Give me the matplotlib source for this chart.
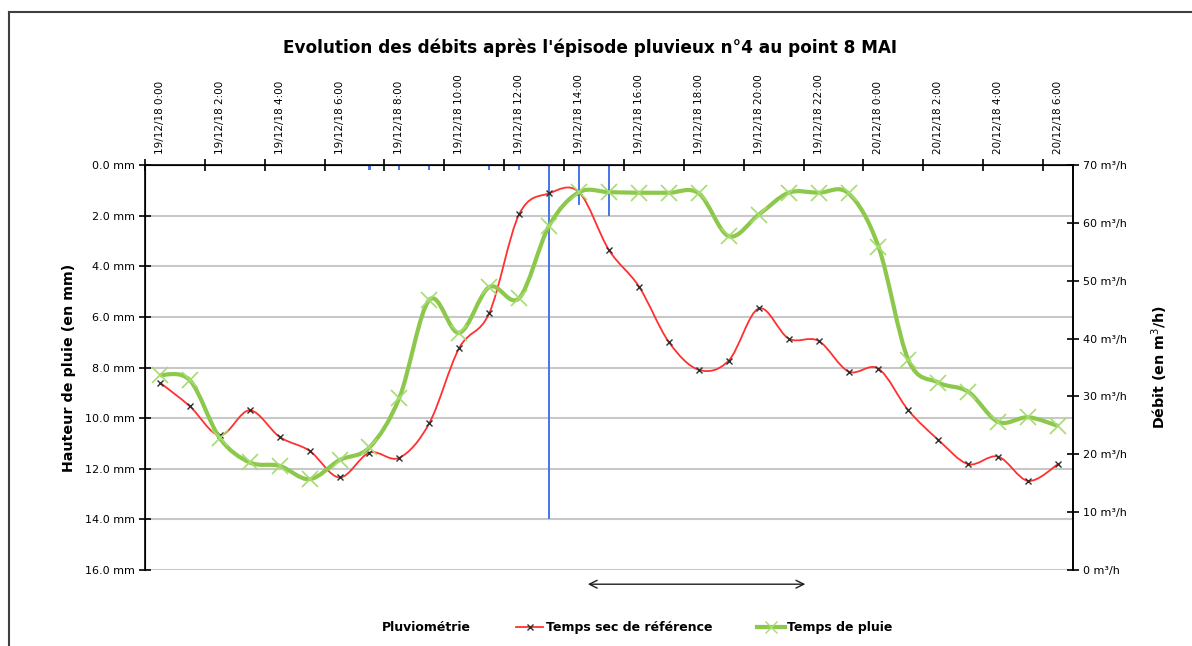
import matplotlib.pyplot as plt
import numpy as np
from matplotlib.lines import Line2D
from matplotlib.patches import Patch, PathPatch
from matplotlib.path import Path

plt.rcParams['font.family'] = ['DejaVu Sans']

# heures du 19/12/18 0:00 au 20/12/18 6:00 (pas horaire)
heures = [f"19/12/18 {h}:00" for h in range(24)] + [f"20/12/18 {h}:00" for h in range(7)]

# pluviométrie (mm) par heure
pluie = [0, 0, 0, 0, 0, 0, 0, 0.2, 0.2, 0.2, 0, 0.2, 0.2, 14.0, 1.6, 2.0,
         0, 0, 0, 0, 0, 0, 0, 0, 0, 0, 0, 0, 0, 0, 0]

# débits (m3/h)
temps_sec = [32.4, 28.3, 23.3, 27.6, 23.0, 20.6, 16.0, 20.3, 19.4, 25.4, 38.4,
             44.4, 61.5, 65.1, 65.3, 55.3, 49.0, 39.4, 34.6, 36.2, 45.2, 40.0,
             39.6, 34.3, 34.8, 27.6, 22.5, 18.3, 19.6, 15.4, 18.3]
temps_pluie = [33.7, 32.8, 22.8, 18.6, 18.0, 15.7, 19.0, 21.2, 29.8, 46.7, 41.0,
               48.9, 47.0, 59.5, 65.3, 65.3, 65.2, 65.2, 65.1, 57.7, 61.4, 65.2,
               65.2, 65.1, 55.9, 36.3, 32.4, 30.8, 25.6, 26.4, 24.9]


def courbe_lissee(x, y):
    # courbe de Bézier passant par les points (lissage façon tableur)
    pts = np.column_stack([x, y]).astype(float)
    verts = [pts[0]]
    codes = [Path.MOVETO]
    n = len(pts)
    for i in range(n - 1):
        p0 = pts[max(i - 1, 0)]
        p1 = pts[i]
        p2 = pts[i + 1]
        p3 = pts[min(i + 2, n - 1)]
        c1 = p1 + (p2 - p0) / 6
        c2 = p2 - (p3 - p1) / 6
        verts += [c1, c2, p2]
        codes += [Path.CURVE4] * 3
    return Path(verts, codes)


fig = plt.figure(figsize=(11.92, 6.46), dpi=100)
ax = fig.add_axes([0.1216, 0.1176, 0.7786, 0.627])
x = np.arange(len(heures))

ax.bar(x, pluie, width=0.07, color='#4a78e6', zorder=2)
ax.set_ylim(16, 0)
ax.set_xlim(-0.5, len(heures) - 0.5)
ax.set_yticks(np.arange(0, 16.1, 2))
ax.set_yticklabels([f"{v:.1f} mm" for v in np.arange(0, 16.1, 2)], fontsize=8)
ax.yaxis.grid(True, color='#c8c8c8', linewidth=1.5, zorder=0)
ax.set_axisbelow(True)
ax.set_ylabel('Hauteur de pluie (en mm)', fontsize=10.3, fontweight='bold', labelpad=6)

ax.xaxis.tick_top()
ax.set_xticks(np.arange(-0.5, len(heures), 2))
ax.set_xticklabels([])
ax.set_xticks(x[::2], minor=True)
ax.set_xticklabels(heures[::2], minor=True, rotation=90, fontsize=7.5)
ax.tick_params(axis='x', which='minor', length=0, pad=8)
ax.tick_params(axis='x', which='major', direction='inout', length=8, width=1.2)
ax.tick_params(axis='y', direction='inout', length=8, width=1.2)
ax.spines['bottom'].set_visible(False)
for s in ['left', 'top', 'right']:
    ax.spines[s].set_linewidth(1.2)

ax2 = ax.twinx()
ax2.set_ylim(0, 70)
ax2.set_yticks(np.arange(0, 71, 10))
ax2.set_yticklabels([f"{v} m³/h" for v in range(0, 71, 10)], fontsize=8)
ax2.tick_params(axis='y', direction='inout', length=8, width=1.2)
ax2.spines['bottom'].set_visible(False)
ax2.spines['right'].set_linewidth(1.2)
ax2.set_ylabel('Débit (en m$^3$/h)', fontsize=10.3, fontweight='bold', labelpad=16)

ax2.add_patch(PathPatch(courbe_lissee(x, temps_sec), fill=False, edgecolor='#ff3030',
                        linewidth=1.3, zorder=3))
ax2.plot(x, temps_sec, linestyle='none', marker='x', color='#303030',
         markersize=5, markeredgewidth=1, zorder=4)
ax2.add_patch(PathPatch(courbe_lissee(x, temps_pluie), fill=False, edgecolor='#8cc84b',
                        linewidth=3, zorder=5))
ax2.plot(x, temps_pluie, linestyle='none', marker='x', color='#a6dc72',
         markersize=11, markeredgewidth=1.2, zorder=6)

# flèche sous la période de pluie
ax.annotate('', xy=(14.2, -0.035), xytext=(21.65, -0.035),
            xycoords=ax.get_xaxis_transform(), textcoords=ax.get_xaxis_transform(),
            arrowprops=dict(arrowstyle='<->', color='#202020', lw=1, mutation_scale=14),
            annotation_clip=False)

fig.suptitle("Evolution des débits après l'épisode pluvieux n°4 au point 8 MAI",
             x=0.495, y=0.94, fontsize=12.2, fontweight='bold')

handles = [Patch(facecolor='none', edgecolor='none'),
           Line2D([], [], color='#ff3030', lw=1.3, marker='x', markersize=4,
                  markeredgecolor='#303030'),
           Line2D([], [], color='#8cc84b', lw=3, marker='x', markersize=9,
                  markeredgecolor='#a6dc72')]
leg = fig.legend(handles, ['Pluviométrie', 'Temps sec de référence', 'Temps de pluie'],
                 loc='center', bbox_to_anchor=(0.522, 0.028), ncol=3, frameon=False,
                 prop={'weight': 'bold', 'size': 9}, handlelength=2.2,
                 columnspacing=3.6, handletextpad=0.2)

# cadre du graphique
fig.add_artist(Line2D([9 / 1192, 1], [1 - 12 / 646] * 2, color='#404040', lw=1.5))
fig.add_artist(Line2D([9 / 1192] * 2, [0, 1 - 12 / 646], color='#404040', lw=1.5))

fig.savefig('out.png', dpi=100)
